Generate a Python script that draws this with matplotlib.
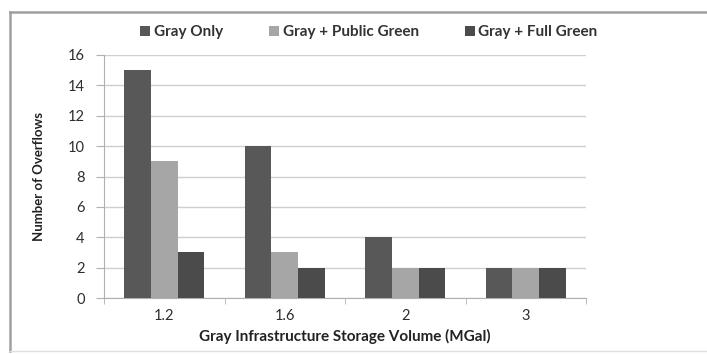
import matplotlib
matplotlib.use("Agg")
import matplotlib.pyplot as plt
from matplotlib.lines import Line2D
import numpy as np

categories = ["1.2", "1.6", "2", "3"]
gray_only = [15, 10, 4, 2]
gray_public_green = [9, 3, 2, 2]
gray_full_green = [3, 2, 2, 2]
series_names = ["Gray Only", "Gray + Public Green", "Gray + Full Green"]
series_colors = ["#585858", "#a6a6a6", "#4b4b4b"]
y_ticks = [0, 2, 4, 6, 8, 10, 12, 14, 16]

plt.rcParams["font.family"] = ["Lato", "DejaVu Sans"]

fig = plt.figure(figsize=(7.07, 3.54), dpi=100)
ax = fig.add_axes([104 / 707, 1 - 298 / 354, 482 / 707, 243 / 354])

x = np.arange(len(categories))
width = 0.222
for i, (vals, name, col) in enumerate(zip([gray_only, gray_public_green, gray_full_green],
                                          series_names, series_colors)):
    ax.bar(x + (i - 1) * width, vals, width, color=col, label=name, zorder=3)

ax.set_xlim(-0.5, len(categories) - 0.5)
ax.set_ylim(0, 16)
ax.set_yticks(y_ticks)
ax.set_yticklabels([str(t) for t in y_ticks], fontsize=10.5, color="#2e2e2e")
ax.set_xticks(x)
ax.set_xticklabels(categories, fontsize=10.5, color="#2e2e2e")
ax.set_xticks(np.arange(-0.5, len(categories)), minor=True)
ax.tick_params(axis="x", which="major", length=0, pad=8)
ax.tick_params(axis="x", which="minor", length=4, color="#b0b0b0")
ax.tick_params(axis="y", length=6, color="#b0b0b0", pad=8)

ax.grid(axis="y", color="#cfcfcf", linewidth=1, zorder=0)
for side in ["top", "right"]:
    ax.spines[side].set_visible(False)
for side in ["left", "bottom"]:
    ax.spines[side].set_color("#b0b0b0")

ax.set_xlabel("Gray Infrastructure Storage Volume (MGal)", fontsize=11,
              fontweight="bold", color="#222222", labelpad=4)
ax.set_ylabel("Number of Overflows", fontsize=9.5, fontweight="bold",
              color="#222222", labelpad=16)

fig.legend(loc="center", bbox_to_anchor=(369 / 707, 1 - 32 / 354), ncol=3,
           frameon=False, prop={"size": 11, "weight": "bold"},
           handlelength=0.65, handleheight=0.65,
           handletextpad=0.25, columnspacing=3.0, labelcolor="#333333")

# Chart-area border: top, left and bottom edges (right edge runs off the canvas)
left, top, bottom = 10 / 707, 1 - 12 / 354, 1 - 351 / 354
frame_kw = dict(transform=fig.transFigure, color="#a0a0a0", linewidth=1.8)
fig.lines.append(Line2D([left, 1.0], [top, top], **frame_kw))
fig.lines.append(Line2D([left, left], [bottom, top], **frame_kw))
fig.lines.append(Line2D([left, 1.0], [bottom, bottom], color="#e0e0e0",
                        linewidth=1.0, transform=fig.transFigure))

fig.savefig("out.png", dpi=100)
